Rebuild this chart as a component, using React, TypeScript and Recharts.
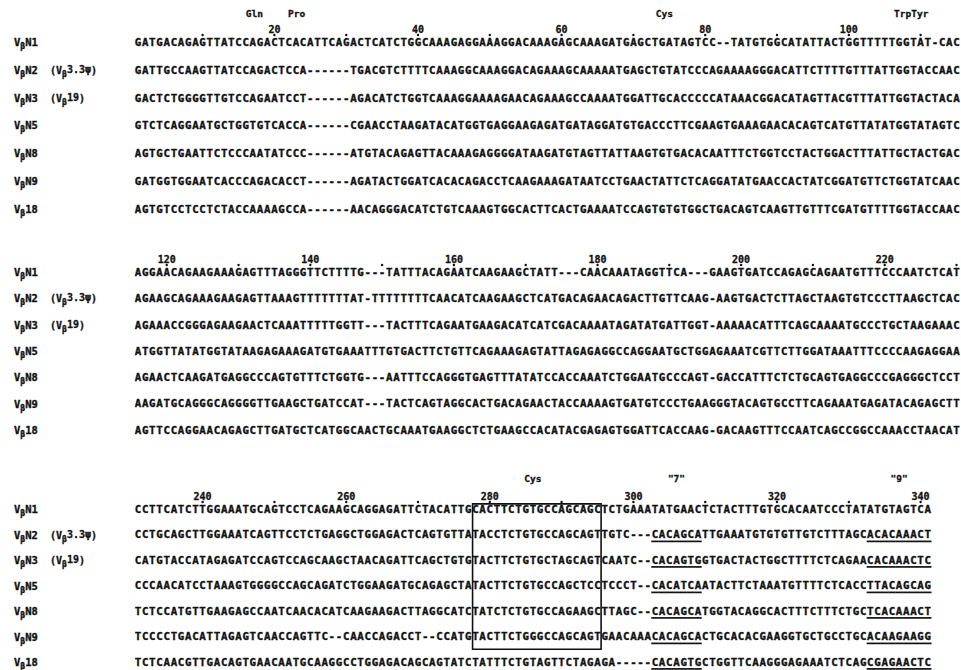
import React from 'react'
import { ScatterChart, Scatter, XAxis, YAxis, ReferenceArea } from 'recharts'

// row labels: V(beta) + gene name, optional alias in brackets
const rowGenes = ['N1', 'N2', 'N3', 'N5', 'N8', 'N9', '18']
const rowAliases = ['', '3.3ψ', '19', '', '', '', '']

// aligned sequences, 115 columns per line
const block1 = [
  'GATGACAGAGTTATCCAGACTCACATTCAGACTCATCTGGCAAAGAGGAAAGGACAAAGAGCAAAGATGAGCTGATAGTCC--TATGTGGCATATTACTGGTTTTTGGTAT-CAC',
  'GATTGCCAAGTTATCCAGACTCCA------TGACGTCTTTTCAAAGGCAAAGGACAGAAAGCAAAAATGAGCTGTATCCCAGAAAAGGGACATTCTTTTGTTTATTGGTACCAAC',
  'GACTCTGGGGTTGTCCAGAATCCT------AGACATCTGGTCAAAGGAAAAGAACAGAAAGCCAAAATGGATTGCACCCCCATAAACGGACATAGTTACGTTTATTGGTACTACA',
  'GTCTCAGGAATGCTGGTGTCACCA------CGAACCTAAGATACATGGTGAGGAAGAGATGATAGGATGTGACCCTTCGAAGTGAAAGAACACAGTCATGTTATATGGTATAGTC',
  'AGTGCTGAATTCTCCCAATATCCC------ATGTACAGAGTTACAAAGAGGGGATAAGATGTAGTTATTAAGTGTGACACAATTTCTGGTCCTACTGGACTTTATTGCTACTGAC',
  'GATGGTGGAATCACCCAGACACCT------AGATACTGGATCACACAGACCTCAAGAAAGATAATCCTGAACTATTCTCAGGATATGAACCACTATCGGATGTTCTGGTATCAAC',
  'AGTGTCCTCCTCTACCAAAAGCCA------AACAGGGACATCTGTCAAAGTGGCACTTCACTGAAAATCCAGTGTGTGGCTGACAGTCAAGTTGTTTCGATGTTTTGGTACCAAC',
]
const block2 = [
  'AGGAACAGAAGAAAGAGTTTAGGGTTCTTTTG---TATTTACAGAATCAAGAAGCTATT---CAACAAATAGGTTCA---GAAGTGATCCAGAGCAGAATGTTTCCCAATCTCAT',
  'AGAAGCAGAAAGAAGAGTTAAAGTTTTTTTAT-TTTTTTTTCAACATCAAGAAGCTCATGACAGAACAGACTTGTTCAAG-AAGTGACTCTTAGCTAAGTGTCCCTTAAGCTCAC',
  'AGAAACCGGGAGAAGAACTCAAATTTTTGGTT---TACTTTCAGAATGAAGACATCATCGACAAAATAGATATGATTGGT-AAAAACATTTCAGCAAAATGCCCTGCTAAGAAAC',
  'ATGGTTATATGGTATAAGAGAAAGATGTGAAATTTGTGACTTCTGTTCAGAAAGAGTATTAGAGAGGCCAGGAATGCTGGAGAAATCGTTCTTGGATAAATTTCCCCAAGAGGAA',
  'AGAACTCAAGATGAGGCCCAGTGTTTCTGGTG---AATTTCCAGGGTGAGTTTATATCCACCAAATCTGGAATGCCCAGT-GACCATTTCTCTGCAGTGAGGCCCGAGGGCTCCT',
  'AAGATGCAGGGCAGGGGTTGAAGCTGATCCAT---TACTCAGTAGGCACTGACAGAACTACCAAAAGTGATGTCCCTGAAGGGTACAGTGCCTTCAGAAATGAGATACAGAGCTT',
  'AGTTCCAGGAACAGAGCTTGATGCTCATGGCAACTGCAAATGAAGGCTCTGAAGCCACATACGAGAGTGGATTCACCAAG-GACAAGTTTCCAATCAGCCGGCCAAACCTAACAT',
]
const block3 = [
  'CCTTCATCTTGGAAATGCAGTCCTCAGAAGCAGGAGATTCTACATTGCACTTCTGTGCCAGCAGCTCTGAAATATGAACTCTACTTTGTGCACAATCCCTATATGTAGTCA',
  'CCTGCAGCTTGGAAATCAGTTCCTCTGAGGCTGGAGACTCAGTGTTATACCTCTGTGCCAGCAGTTGTC---CACAGCATTGAAATGTGTGTTGTCTTTAGCACACAAACT',
  'CATGTACCATAGAGATCCAGTCCAGCAAGCTAACAGATTCAGCTGTGTACTTCTGTGCTAGCAGTCAATC--CACAGTGGTGACTACTGGCTTTTCTCAGAACACAAACTC',
  'CCCAACATCCTAAAGTGGGGCCAGCAGATCTGGAAGATGCAGAGCTATACTTCTGTGCCAGCTCCTCCCT--CACATCAATACTTCTAAATGTTTTCTCACCTTACAGCAG',
  'TCTCCATGTTGAAGAGCCAATCAACACATCAAGAAGACTTAGGCATCTATCTCTGTGCCAGAAGCTTAGC--CACAGCATGGTACAGGCACTTTCTTTCTGCTCACAAACT',
  'TCCCCTGACATTAGAGTCAACCAGTTC--CAACCAGACCT--CCATGTACTTCTGGGCCAGCAGTGAACAAACACAGCACTGCACACGAAGGTGCTGCCTGCACAAGAAGG',
  'TCTCAACGTTGACAGTGAACAATGCAAGGCCTGGAGACAGCAGTATCTATTTCTGTAGTTCTAGAGA-----CACAGTGCTGGTTCAAGGGAGAAATCTCAGCGAGAACTC',
]

// position numbers and dots (global alignment columns)
const numberTicks = [20, 40, 60, 80, 100, 120, 140, 160, 180, 200, 220, 240, 260, 280, 300, 320, 340]
const dotTicks = [
  10, 20, 30, 40, 50, 60, 70, 80, 90, 100, 110, 120, 130, 140, 150, 160, 170, 180,
  190, 200, 210, 220, 230, 240, 250, 260, 270, 280, 290, 300, 310, 320, 330, 340,
]

// codon / signal annotations above the lines
const markLabels = ['Gln', 'Pro', 'Cys', 'TrpTyr', 'Cys', '"7"', '"9"']
const markColumns = [17.2, 23.1, 74.3, 108.7, 286, 306, 337]

// underlined heptamer / nonamer, rows 2-7 of last line
const signalRows = [1, 2, 3, 4, 5, 6]
const heptamer = [303, 309]
const nonamer = [333, 341]

// boxed Cys codon region
const boxColumns = [277.6, 295.5]

const LINE_LEN = 115
const CHAR_W = 7.18
const AXIS_W = 134.4
const WIDTH = 961

const monoFont = '"DejaVu Sans Mono", monospace'
const INK = '#111'

const blocks = [
  { seqs: block1, offset: 0, top: 0, height: 222, row0: 42, step: 27.8, markY: -29, boxRows: null },
  { seqs: block2, offset: 115, top: 222, height: 218, row0: 272, step: 26.3, markY: -29, boxRows: null },
  { seqs: block3, offset: 230, top: 440, height: 230, row0: 509, step: 25.5, markY: -31, boxRows: [-0.2, 5.5] },
]

const inRange = (g: number, r: number[]) => g >= r[0] && g <= r[1]

const CharShape = (props: any) => {
  const { cx, cy, payload } = props
  return (
    <g>
      <text
        x={cx}
        y={cy + 3.9}
        textAnchor="middle"
        fontFamily={monoFont}
        fontWeight="bold"
        fontSize={10.8}
        fill={INK}
        stroke={INK}
        strokeWidth={0.35}
      >
        {payload.ch}
      </text>
      {payload.ul && (
        <line x1={cx - 3.7} x2={cx + 3.7} y1={cy + 6.9} y2={cy + 6.9} stroke={INK} strokeWidth={1.7} />
      )}
    </g>
  )
}

const NumberShape = (props: any) => {
  const { cx, cy, payload } = props
  return (
    <text
      x={cx}
      y={cy + 3.5}
      textAnchor="middle"
      fontFamily={monoFont}
      fontWeight="bold"
      fontSize={10}
      fill={INK}
      stroke={INK}
      strokeWidth={0.3}
    >
      {payload.label}
    </text>
  )
}

const DotShape = (props: any) => <circle cx={props.cx} cy={props.cy} r={1.2} fill={INK} />

const MarkShape = (props: any) => {
  const { cx, cy, payload } = props
  return (
    <text
      x={cx}
      y={cy + 3.5}
      textAnchor="middle"
      fontFamily={monoFont}
      fontWeight="bold"
      fontSize={9.5}
      fill={INK}
      stroke={INK}
      strokeWidth={0.3}
    >
      {payload.label}
    </text>
  )
}

const RowLabel = (props: any) => {
  const { y, payload } = props
  const i = payload.value
  return (
    <g>
      <text x={14} y={y + 4} fontFamily={monoFont} fontWeight="bold" fontSize={10.5} fill={INK} stroke={INK} strokeWidth={0.35}>
        V<tspan dy={3} fontSize={8}>β</tspan>
        <tspan dy={-3}>{rowGenes[i]}</tspan>
      </text>
      {rowAliases[i] && (
        <text x={50} y={y + 4} fontFamily={monoFont} fontWeight="bold" fontSize={10} fill={INK} stroke={INK} strokeWidth={0.3}>
          (V<tspan dy={3} fontSize={8}>β</tspan>
          <tspan dy={-4}>{rowAliases[i]}</tspan>
          <tspan dy={1}>)</tspan>
        </text>
      )}
    </g>
  )
}

function Block({ cfg }: { cfg: (typeof blocks)[number] }) {
  const { seqs, offset, top, height, row0, step, markY, boxRows } = cfg
  const d0 = -(row0 - top) / step
  const d1 = d0 + height / step
  const numY = -13 / step
  const dotY = -7 / step

  const chars = seqs.flatMap((s, r) =>
    s.split('').map((ch, k) => {
      const g = offset + k + 1
      const ul = signalRows.includes(r) && (inRange(g, heptamer) || inRange(g, nonamer))
      return { x: k + 1, y: r, ch, ul }
    })
  )
  const inBlock = (g: number) => g > offset && g <= offset + LINE_LEN
  const numbers = numberTicks.filter(inBlock).map((g) => ({ x: g - offset, y: numY, label: g }))
  const dots = dotTicks.filter(inBlock).map((g) => ({ x: g - offset, y: dotY }))
  const marks = markColumns
    .map((g, i) => ({ x: g - offset, y: markY / step, label: markLabels[i], g }))
    .filter((m) => inBlock(m.g))

  return (
    <div style={{ position: 'absolute', left: 0, top, width: WIDTH, height }}>
      <ScatterChart width={WIDTH} height={height} margin={{ top: 0, right: 0, bottom: 0, left: 0 }}>
        <XAxis
          type="number"
          dataKey="x"
          hide
          domain={[0.5, 0.5 + (WIDTH - AXIS_W) / CHAR_W]}
          allowDataOverflow
        />
        <YAxis
          type="number"
          dataKey="y"
          reversed
          domain={[d0, d1]}
          allowDataOverflow
          ticks={[0, 1, 2, 3, 4, 5, 6]}
          interval={0}
          width={AXIS_W}
          axisLine={false}
          tickLine={false}
          tick={RowLabel}
        />
        {boxRows && (
          <ReferenceArea
            x1={boxColumns[0] - offset}
            x2={boxColumns[1] - offset}
            y1={boxRows[0]}
            y2={boxRows[1]}
            fill="none"
            stroke={INK}
            strokeWidth={1.6}
          />
        )}
        <Scatter data={marks} shape={MarkShape} isAnimationActive={false} />
        <Scatter data={numbers} shape={NumberShape} isAnimationActive={false} />
        <Scatter data={dots} shape={DotShape} isAnimationActive={false} />
        <Scatter data={chars} shape={CharShape} isAnimationActive={false} />
      </ScatterChart>
    </div>
  )
}

export default function App() {
  return (
    <div style={{ position: 'absolute', left: 0, top: 0, width: WIDTH, height: 670, background: '#fff' }}>
      {blocks.map((b, i) => (
        <Block key={i} cfg={b} />
      ))}
    </div>
  )
}
